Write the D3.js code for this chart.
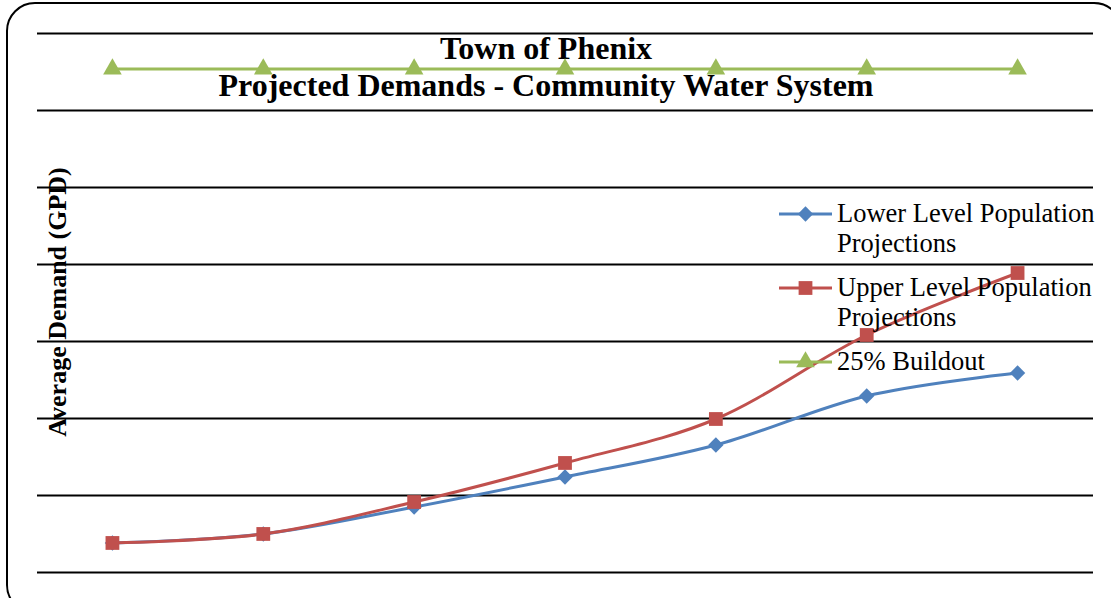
<!DOCTYPE html>
<html>
<head>
<meta charset="utf-8">
<script src="https://cdn.jsdelivr.net/npm/d3@7"></script>
<style>
  body { margin: 0; background: #fff; }
  svg { display: block; font-family: "Liberation Serif", "Times New Roman", serif; }
</style>
</head>
<body>
<div id="chart"></div>
<script>
(function(){
  'use strict';

  // periods along the x axis (no labels shown on the original)
  var categories = [1, 2, 3, 4, 5, 6, 7];
  var lowerVals = [377, 494, 844, 1234, 1649, 2286, 2584];
  var upperVals = [377, 494, 909, 1416, 1987, 3078, 3883];
  var buildoutVals = [6532, 6532, 6532, 6532, 6532, 6532, 6532];
  var gridTicks = [0, 1000, 2000, 3000, 4000, 5000, 6000, 7000];

  var seriesNames = ['Lower Level Population Projections', 'Upper Level Population Projections', '25% Buildout'];

  var w = 1111,
      h = 598;

  var svg = d3.select('#chart').append('svg')
    .attr('width', w)
    .attr('height', h);

  // rounded chart border
  svg.append('rect')
    .attr('x', 7).attr('y', 3)
    .attr('width', 1115).attr('height', 610)
    .attr('rx', 28).attr('ry', 28)
    .style('fill', 'none')
    .style('stroke', '#000')
    .style('stroke-width', 2);

  var x = d3.scalePoint()
    .domain(categories)
    .range([37, 1093])
    .padding(0.5);

  var y = d3.scaleLinear()
    .domain([0, 7000])
    .range([572, 33]);

  // gridlines
  var grid = svg.append('g')
    .attr('transform', 'translate(37,0)')
    .call(d3.axisLeft(y).tickValues(gridTicks).tickSize(-1056).tickFormat(''));
  grid.select('.domain').remove();
  grid.selectAll('.tick line')
    .style('stroke', '#000')
    .style('stroke-width', 2);

  // title
  var title = svg.append('g').style('font-weight', 'bold').style('font-size', '32px');
  title.append('text').attr('x', 546).attr('y', 59).attr('text-anchor', 'middle').text('Town of Phenix');
  title.append('text').attr('x', 546).attr('y', 96).attr('text-anchor', 'middle').text('Projected Demands - Community Water System');

  // y axis title
  svg.append('text')
    .attr('transform', 'translate(66,302) rotate(-90)')
    .attr('text-anchor', 'middle')
    .style('font-weight', 'bold')
    .style('font-size', '26px')
    .text('Average Demand (GPD)');

  var series = [
    {name: seriesNames[0], vals: lowerVals, c: '#4F81BD', m: 'diamond'},
    {name: seriesNames[1], vals: upperVals, c: '#C0504D', m: 'square'},
    {name: seriesNames[2], vals: buildoutVals, c: '#9BBB59', m: 'triangle'}
  ];

  var symbols = {
    diamond: d3.symbol().type(d3.symbolDiamond2).size(150),
    square: d3.symbol().type(d3.symbolSquare).size(190),
    triangle: d3.symbol().type(d3.symbolTriangle).size(150)
  };

  var line = d3.line()
    .x(function(d, i) { return x(categories[i]); })
    .y(function(d) { return y(d); })
    .curve(d3.curveCardinal.tension(0));

  var sGroups = svg.selectAll('.series')
    .data(series)
    .enter()
    .append('g')
    .attr('class', 'series');

  sGroups.append('path')
    .attr('d', function(d) { return line(d.vals); })
    .style('fill', 'none')
    .style('stroke', function(d) { return d.c; })
    .style('stroke-width', 3);

  sGroups.selectAll('.pt')
    .data(function(d) { return d.vals.map(function(v, i) { return {v: v, i: i, s: d}; }); })
    .enter()
    .append('path')
    .attr('class', 'pt')
    .attr('transform', function(d) { return 'translate(' + x(categories[d.i]) + ',' + y(d.v) + ')'; })
    .attr('d', function(d) { return symbols[d.s.m](); })
    .style('fill', function(d) { return d.s.c; });

  // legend
  var legendY = [214, 288, 362];
  var legend = svg.append('g')
    .style('font-size', '26.5px');

  var items = legend.selectAll('.item')
    .data(series)
    .enter()
    .append('g')
    .attr('class', 'item')
    .attr('transform', function(d, i) { return 'translate(779,' + legendY[i] + ')'; });

  items.append('line')
    .attr('x1', 0).attr('x2', 53)
    .style('stroke', function(d) { return d.c; })
    .style('stroke-width', 3);

  items.append('path')
    .attr('transform', 'translate(26.5,0)')
    .attr('d', function(d) { return symbols[d.m](); })
    .style('fill', function(d) { return d.c; });

  items.append('text')
    .attr('x', 58)
    .attr('y', 8)
    .each(function(d) {
      var t = d3.select(this);
      var parts = d.name.indexOf('Projections') > 0 ? [d.name.replace(' Projections', ''), 'Projections'] : [d.name];
      parts.forEach(function(p, k) {
        t.append('tspan').attr('x', 58).attr('dy', k === 0 ? 0 : 30).text(p);
      });
    });

}());
</script>
</body>
</html>
